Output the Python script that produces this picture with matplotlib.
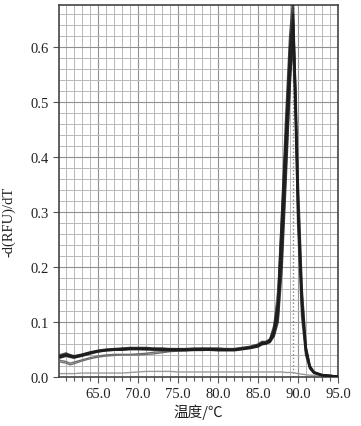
import numpy as np
import matplotlib
matplotlib.use("Agg")
import matplotlib.pyplot as plt
from matplotlib.ticker import MultipleLocator, FormatStrFormatter

# temperature points (°C)
temp = [60.3, 61.0, 61.5, 62.0, 63.0, 64.0, 65.0, 66.0, 67.0, 68.0, 69.0, 70.0,
        71.0, 72.0, 73.0, 74.0, 75.0, 76.0, 77.0, 78.0, 79.0, 80.0, 81.0, 82.0,
        83.0, 84.0, 85.0, 85.5, 86.0, 86.5, 87.0, 87.5, 88.0, 88.5, 89.0, 89.4,
        89.7, 90.0, 90.5, 91.0, 91.5, 92.0, 93.0, 94.0, 95.0]

# sample melt curves (dark)
dark1 = [0.040, 0.043, 0.040, 0.038, 0.041, 0.045, 0.048, 0.050, 0.051, 0.052, 0.053, 0.053,
         0.053, 0.052, 0.052, 0.051, 0.051, 0.051, 0.052, 0.052, 0.052, 0.052, 0.051, 0.051,
         0.053, 0.055, 0.059, 0.064, 0.064, 0.068, 0.088, 0.140, 0.300, 0.470, 0.620, 0.690,
         0.500, 0.280, 0.110, 0.040, 0.015, 0.007, 0.003, 0.002, 0.001]
dark2 = [0.037, 0.040, 0.038, 0.036, 0.040, 0.044, 0.047, 0.049, 0.050, 0.051, 0.052, 0.052,
         0.052, 0.051, 0.051, 0.050, 0.050, 0.050, 0.050, 0.051, 0.051, 0.050, 0.050, 0.050,
         0.052, 0.054, 0.057, 0.062, 0.062, 0.066, 0.080, 0.120, 0.250, 0.420, 0.580, 0.660,
         0.520, 0.320, 0.130, 0.045, 0.017, 0.008, 0.003, 0.002, 0.001]
dark3 = [0.035, 0.038, 0.036, 0.035, 0.039, 0.043, 0.046, 0.048, 0.049, 0.050, 0.051, 0.051,
         0.050, 0.050, 0.049, 0.049, 0.049, 0.049, 0.049, 0.050, 0.050, 0.049, 0.049, 0.049,
         0.051, 0.053, 0.056, 0.060, 0.061, 0.064, 0.074, 0.100, 0.200, 0.360, 0.530, 0.640,
         0.500, 0.340, 0.150, 0.052, 0.019, 0.008, 0.003, 0.002, 0.001]
dark4 = [0.036, 0.039, 0.037, 0.035, 0.038, 0.042, 0.046, 0.048, 0.049, 0.049, 0.050, 0.050,
         0.050, 0.049, 0.049, 0.048, 0.048, 0.048, 0.049, 0.049, 0.049, 0.048, 0.048, 0.048,
         0.050, 0.052, 0.055, 0.059, 0.060, 0.063, 0.076, 0.108, 0.220, 0.380, 0.540, 0.610,
         0.460, 0.300, 0.130, 0.047, 0.017, 0.008, 0.003, 0.002, 0.001]
dark5 = [0.038, 0.041, 0.039, 0.037, 0.040, 0.044, 0.047, 0.049, 0.050, 0.050, 0.051, 0.051,
         0.051, 0.051, 0.050, 0.050, 0.050, 0.050, 0.050, 0.050, 0.050, 0.050, 0.049, 0.049,
         0.051, 0.053, 0.057, 0.061, 0.062, 0.065, 0.084, 0.130, 0.280, 0.440, 0.600, 0.650,
         0.530, 0.360, 0.160, 0.055, 0.020, 0.009, 0.004, 0.002, 0.001]

# lighter curves that start lower
gray1 = [0.027, 0.025, 0.022, 0.024, 0.029, 0.033, 0.036, 0.038, 0.039, 0.040, 0.040, 0.040,
         0.041, 0.042, 0.044, 0.046, 0.047, 0.048, 0.048, 0.048, 0.049, 0.049, 0.049, 0.049,
         0.051, 0.053, 0.056, 0.060, 0.063, 0.070, 0.095, 0.160, 0.310, 0.450, 0.570, 0.600,
         0.480, 0.310, 0.140, 0.055, 0.020, 0.009, 0.004, 0.002, 0.001]
gray2 = [0.030, 0.028, 0.025, 0.027, 0.031, 0.035, 0.038, 0.040, 0.041, 0.041, 0.041, 0.042,
         0.043, 0.045, 0.046, 0.047, 0.048, 0.048, 0.049, 0.049, 0.049, 0.049, 0.049, 0.049,
         0.050, 0.052, 0.055, 0.059, 0.062, 0.068, 0.090, 0.150, 0.290, 0.430, 0.560, 0.620,
         0.470, 0.300, 0.135, 0.052, 0.019, 0.008, 0.004, 0.002, 0.001]

# no-template control
ntc = [0.006, 0.006, 0.006, 0.006, 0.007, 0.007, 0.007, 0.007, 0.007, 0.007, 0.008, 0.009,
       0.010, 0.010, 0.010, 0.010, 0.009, 0.009, 0.009, 0.009, 0.009, 0.009, 0.009, 0.009,
       0.009, 0.009, 0.009, 0.009, 0.009, 0.009, 0.009, 0.009, 0.009, 0.008, 0.008, 0.008,
       0.007, 0.006, 0.005, 0.004, 0.003, 0.003, 0.002, 0.001, 0.001]

tm = 89.4
xticks = [65.0, 70.0, 75.0, 80.0, 85.0, 90.0, 95.0]
yticks = [0.0, 0.1, 0.2, 0.3, 0.4, 0.5, 0.6]

serif = ['Liberation Serif', 'DejaVu Serif']

fig = plt.figure(figsize=(3.61, 4.27), dpi=100)
ax = fig.add_axes([0.163, 0.115, 0.773, 0.871])

# grid
ax.xaxis.set_minor_locator(MultipleLocator(1))
ax.yaxis.set_minor_locator(MultipleLocator(0.02))
ax.grid(which='minor', color='#b8b8b8', linewidth=0.7)
ax.grid(which='major', color='#909090', linewidth=0.8)
ax.set_axisbelow(True)

ax.axvline(tm, color='#888888', linestyle=':', linewidth=1.0, zorder=1)

ax.plot(temp, ntc, color='#9a9a9a', linewidth=1.0, zorder=2)
for ys in [gray1, gray2]:
    ax.plot(temp, ys, color='#6e6e6e', linewidth=1.0, zorder=3)
for ys in [dark1, dark2, dark3, dark4, dark5]:
    ax.plot(temp, ys, color='#1c1c1c', linewidth=1.5, alpha=0.8, zorder=4)

ax.set_xlim(60.1, 95.0)
ax.set_ylim(0.0, 0.677)
ax.set_xticks(xticks)
ax.set_yticks(yticks)
ax.xaxis.set_major_formatter(FormatStrFormatter('%.1f'))
ax.yaxis.set_major_formatter(FormatStrFormatter('%.1f'))
ax.tick_params(which='both', direction='out', color='#555555', width=0.8)
ax.tick_params(which='major', length=4, labelsize=10.5)
ax.tick_params(axis='x', which='minor', length=3)
ax.tick_params(axis='y', which='minor', length=0)
for lab in ax.get_xticklabels() + ax.get_yticklabels():
    lab.set_family(serif)
    lab.set_color('#222222')

for s in ax.spines.values():
    s.set_color('#444444')
    s.set_linewidth(1.2)

ax.set_xlabel('温度/℃', family=['Noto Sans CJK SC', 'DejaVu Sans'], fontsize=10.5,
              color='#222222', labelpad=2)
ax.set_ylabel('-d(RFU)/dT', family=serif, fontsize=10.5, color='#222222')
ax.yaxis.set_label_coords(-0.155, 0.42)

fig.savefig('out.png', dpi=100)
